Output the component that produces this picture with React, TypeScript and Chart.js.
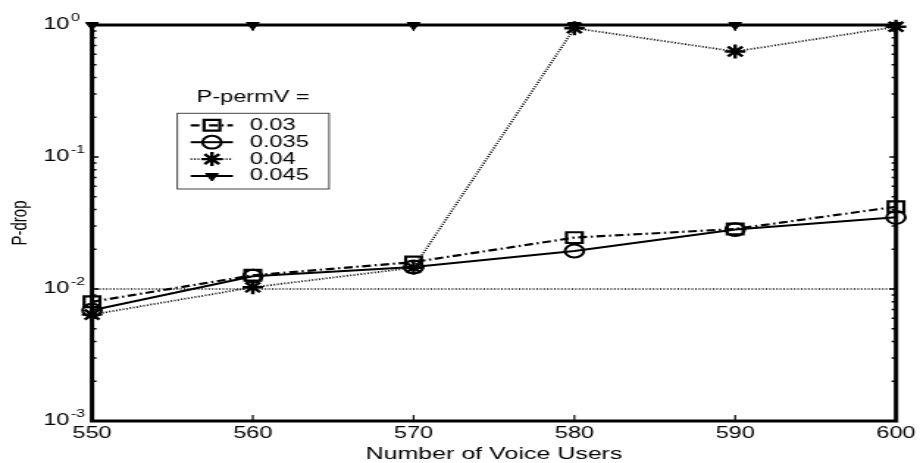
import React, { useEffect, useRef } from 'react';
import { Chart, registerables } from 'chart.js';
import { drawPoint } from 'chart.js/helpers';

Chart.register(...registerables);

// ---- data ----
const voiceUsers = [550, 560, 570, 580, 590, 600];
const seriesLabels = ['0.03', '0.035', '0.04', '0.045'];
const pdrop003 = [0.0080, 0.0127, 0.0160, 0.0245, 0.0285, 0.042];
const pdrop0035 = [0.0069, 0.0125, 0.0147, 0.0194, 0.0282, 0.0349];
const pdrop004 = [0.0064, 0.0103, 0.0145, 0.945, 0.63, 0.97];
const pdrop0045 = [1, 1, 1, 1, 1, 1];
const thresholdLevel = [0.01, 0.01, 0.01, 0.01, 0.01, 0.01];
const yDecades = [0.001, 0.01, 0.1, 1];
const xTickStep = 10;
const legendTitle = 'P-permV =';
const xTitle = 'Number of Voice Users';
const yTitle = 'P-drop';

// ---- layout (canvas drawn narrow, displayed stretched like the source figure) ----
const CANVAS_W = 626;
const CANVAS_H = 463;
const DISPLAY_W = 920;
const FONT = "'Liberation Sans', Arial, Helvetica, sans-serif";

const pts = (ys: number[]) => voiceUsers.map((x, i) => ({ x, y: ys[i] }));

const framePlugin = {
  id: 'frame',
  beforeDatasetsDraw(chart: any) {
    const { ctx, chartArea: a, scales } = chart;
    const ys = scales.y;
    const xs = scales.x;
    ctx.save();
    ctx.strokeStyle = '#000';
    ctx.setLineDash([]);
    // y ticks (major + minor), inward on both sides
    ctx.lineWidth = 1.4;
    for (let d = 0; d < yDecades.length; d++) {
      const base = yDecades[d];
      const maxM = d === yDecades.length - 1 ? 1 : 9;
      for (let m = 1; m <= maxM; m++) {
        const py = ys.getPixelForValue(base * m);
        const len = m === 1 ? 4.5 : 3;
        ctx.beginPath();
        ctx.moveTo(a.left, py);
        ctx.lineTo(a.left + len, py);
        ctx.moveTo(a.right, py);
        ctx.lineTo(a.right - len, py);
        ctx.stroke();
      }
    }
    // x ticks, inward top and bottom
    ctx.lineWidth = 1.2;
    xs.ticks.forEach((t: any) => {
      const px = xs.getPixelForValue(t.value);
      ctx.beginPath();
      ctx.moveTo(px, a.bottom);
      ctx.lineTo(px, a.bottom - 6);
      ctx.moveTo(px, a.top);
      ctx.lineTo(px, a.top + 6);
      ctx.stroke();
    });
    // box
    ctx.lineWidth = 3;
    ctx.strokeRect(a.left, a.top, a.right - a.left, a.bottom - a.top);
    ctx.restore();
  },
  afterDraw(chart: any) {
    const { ctx, scales } = chart;
    const ys = scales.y;
    ctx.save();
    ctx.fillStyle = '#000';
    // y tick labels 10^n with superscript exponents
    yDecades.forEach((v) => {
      const py = ys.getPixelForValue(v);
      const exp = String(Math.round(Math.log10(v)));
      ctx.font = `16px ${FONT}`;
      ctx.textAlign = 'right';
      ctx.textBaseline = 'middle';
      ctx.fillText('10', 47.2, py);
      ctx.font = `11px ${FONT}`;
      ctx.textAlign = 'left';
      ctx.fillText(exp, 48.2, py - 7.5);
    });

    // legend
    const boxL = 120.6, boxT = 113.3, boxW = 103.3, boxH = 75.7;
    ctx.font = `16px ${FONT}`;
    ctx.textAlign = 'center';
    ctx.textBaseline = 'middle';
    ctx.fillText(legendTitle, boxL + boxW / 2, 97.5);
    ctx.fillStyle = '#fff';
    ctx.fillRect(boxL, boxT, boxW, boxH);
    ctx.strokeStyle = '#444';
    ctx.lineWidth = 1;
    ctx.strokeRect(boxL, boxT, boxW, boxH);

    const rowY0 = 125.3, rowStep = 16.9;
    chart.data.datasets.forEach((ds: any, i: number) => {
      if (i >= seriesLabels.length) return;
      const y = rowY0 + i * rowStep;
      ctx.strokeStyle = '#000';
      ctx.lineWidth = ds.borderWidth;
      ctx.setLineDash(ds.borderDash || []);
      ctx.beginPath();
      ctx.moveTo(129.7, y);
      ctx.lineTo(158.5, y);
      ctx.stroke();
      ctx.setLineDash([]);
      ctx.fillStyle = ds.pointBackgroundColor;
      ctx.strokeStyle = '#000';
      ctx.lineWidth = ds.pointBorderWidth;
      drawPoint(ctx, {
        pointStyle: ds.pointStyle,
        radius: ds.pointRadius,
        rotation: ds.pointRotation || 0,
        borderWidth: ds.pointBorderWidth,
      } as any, 144.2, y);
      ctx.fillStyle = '#000';
      ctx.font = `16px ${FONT}`;
      ctx.textAlign = 'left';
      ctx.textBaseline = 'middle';
      ctx.fillText(ds.label, 170, y);
    });
    ctx.restore();
  },
};

export default function App() {
  const ref = useRef<HTMLCanvasElement>(null);
  useEffect(() => {
    const canvas = ref.current;
    if (!canvas) return;
    const common = { borderColor: '#000', clip: false as any, tension: 0 };
    const chart = new Chart(canvas, {
      type: 'line',
      data: {
        datasets: [
          {
            ...common,
            label: seriesLabels[0],
            data: pts(pdrop003),
            borderWidth: 2.2,
            borderDash: [6, 2.5, 1.5, 2.5],
            pointStyle: 'rect',
            pointRadius: 7.6,
            pointBorderWidth: 2.2,
            pointBorderColor: '#000',
            pointBackgroundColor: 'rgba(0,0,0,0)',
          },
          {
            ...common,
            label: seriesLabels[1],
            data: pts(pdrop0035),
            borderWidth: 2,
            borderDash: [],
            pointStyle: 'circle',
            pointRadius: 6.4,
            pointBorderWidth: 2,
            pointBorderColor: '#000',
            pointBackgroundColor: 'rgba(0,0,0,0)',
          },
          {
            ...common,
            label: seriesLabels[2],
            data: pts(pdrop004),
            borderWidth: 1.8,
            borderDash: [1, 1.4],
            pointStyle: 'star',
            pointRadius: 7,
            pointBorderWidth: 2.4,
            pointBorderColor: '#000',
            pointBackgroundColor: 'rgba(0,0,0,0)',
          },
          {
            ...common,
            label: seriesLabels[3],
            data: pts(pdrop0045),
            borderWidth: 2,
            borderDash: [],
            pointStyle: 'triangle',
            pointRotation: 180,
            pointRadius: 5,
            pointBorderWidth: 1,
            pointBorderColor: '#000',
            pointBackgroundColor: '#000',
          },
          {
            ...common,
            label: 'threshold',
            data: pts(thresholdLevel),
            borderWidth: 1.5,
            borderDash: [1, 1.4],
            pointRadius: 0,
          },
        ] as any,
      },
      options: {
        animation: false,
        responsive: false,
        devicePixelRatio: 1,
        layout: { padding: { left: 0, right: 16.3, top: 25, bottom: 0 } },
        plugins: { legend: { display: false }, tooltip: { enabled: false } },
        events: [],
        scales: {
          x: {
            type: 'linear',
            min: voiceUsers[0],
            max: voiceUsers[voiceUsers.length - 1],
            grid: { display: false, drawTicks: false },
            border: { display: false },
            ticks: {
              stepSize: xTickStep,
              padding: 3,
              color: '#000',
              font: { family: FONT, size: 16 },
              maxRotation: 0,
            },
            title: {
              display: true,
              text: xTitle,
              color: '#000',
              font: { family: FONT, size: 17, lineHeight: 1 },
              padding: { top: 0, bottom: 0 },
            },
            afterFit: (s: any) => { s.height = 42; },
          },
          y: {
            type: 'logarithmic',
            min: yDecades[0],
            max: yDecades[yDecades.length - 1],
            grid: { display: false, drawTicks: false },
            border: { display: false },
            ticks: { display: false },
            title: {
              display: true,
              text: yTitle,
              color: '#000',
              font: { family: FONT, size: 15, lineHeight: 1 },
              padding: { top: 6.5, bottom: 0 },
            },
            afterFit: (s: any) => { s.width = 62.6; },
          },
        },
      } as any,
      plugins: [framePlugin],
    });
    return () => chart.destroy();
  }, []);

  return (
    <div style={{ position: 'fixed', left: 0, top: 0, width: DISPLAY_W, height: CANVAS_H, background: '#fff' }}>
      <canvas
        ref={ref}
        width={CANVAS_W}
        height={CANVAS_H}
        style={{ width: `${DISPLAY_W}px`, height: `${CANVAS_H}px`, display: 'block' }}
      />
    </div>
  );
}
